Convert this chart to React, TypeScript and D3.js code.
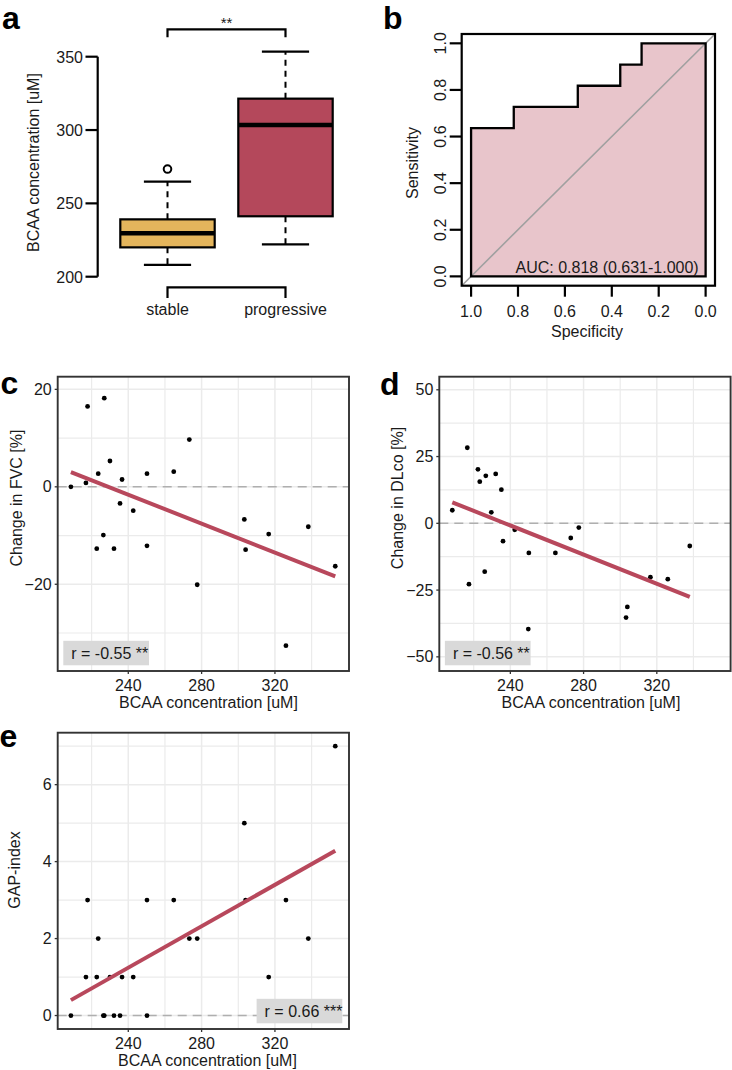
import React from 'react';
import * as d3 from 'd3';

const FONT = '"Liberation Sans", Arial, Helvetica, sans-serif';

// ---------- Panel a: box plot summary ----------
const boxGroups = ['stable', 'progressive'];
const boxQ1 = [220, 241.2];
const boxMedian = [229.6, 303.5];
const boxQ3 = [239.1, 321.4];
const boxWhiskerLow = [208, 222];
const boxWhiskerHigh = [264.8, 353.4];
const boxOutliers: number[][] = [[273.4], []];
const boxTicks = [200, 250, 300, 350];
const boxColors = ['#E4B55C', '#B4485B'];
const boxSignif = '**';

// ---------- Panel b: ROC ----------
const rocSpecificity = [1, 1, 0.818, 0.818, 0.545, 0.545, 0.364, 0.364, 0.273, 0.273, 0];
const rocSensitivity = [0, 0.636, 0.636, 0.727, 0.727, 0.818, 0.818, 0.909, 0.909, 1, 1];
const rocTicks = [0, 0.2, 0.4, 0.6, 0.8, 1.0];
const rocAuc = 'AUC: 0.818 (0.631-1.000)';

// ---------- Panels c & e: BCAA vs FVC change / GAP index ----------
const bcaa = [208.7, 216.9, 217.8, 222.8, 223.6, 226.4, 226.9, 230.0, 232.2, 235.5, 236.6, 242.7,
  250.2, 250.2, 264.8, 273.3, 277.6, 303.3, 304.0, 316.6, 326.0, 338.2, 352.9];
const fvcChange = [0.0, 0.8, 16.5, -12.7, 2.7, -9.9, 18.2, 5.3, -12.7, -3.4, 1.5, -4.9,
  2.7, -12.1, 3.1, 9.7, -20.1, -6.7, -12.9, -9.7, -32.6, -8.2, -16.3];
const gapIndex = [0, 1, 3, 1, 2, 0, 0, 1, 0, 0, 1, 1,
  3, 0, 3, 2, 2, 5, 3, 1, 3, 2, 7];

// ---------- Panel d: BCAA vs DLco change ----------
const bcaaDlco = [208.3, 216.5, 217.4, 222.3, 223.3, 226.6, 226.0, 229.6, 232.0, 235.1, 236.0, 242.4,
  250.1, 249.8, 264.6, 273.0, 277.4, 303.9, 303.2, 316.5, 326.0, 338.0];
const dlcoChange = [4.9, 28.3, -22.8, 20.2, 15.6, 17.8, -18.1, 4.1, 18.5, 12.6, -6.7, -2.4,
  -11.1, -39.6, -11.1, -5.5, -1.6, -31.3, -35.3, -20.2, -20.9, -8.5];

// linear fits: [intercept, slope]
const fitFvc = [34.0, -0.1484];
const fitDlco = [64.75, -0.2731];
const fitGap = [-5.22, 0.02693];

const corrFvc = 'r = -0.55 **';
const corrDlco = 'r = -0.56 **';
const corrGap = 'r = 0.66 ***';

const xMajor = [240, 280, 320];
const xMinor = [220, 260, 300, 340];

const RED = '#B8485C';
const GRID = '#EBEBEB';
const TXT = '#1a1a1a';

const fmtMinus = (v: number) => (v < 0 ? '\u2212' + Math.abs(v) : String(v));

function PanelA() {
  const y = d3.scaleLinear().domain([200, 350]).range([276.7, 56.7]);
  const x = d3.scaleLinear().domain([1, 2]).range([167.5, 285.5]);
  const hw = (x(2) - x(1)) * 0.4;
  const cap = hw * 0.5;
  return (
    <g>
      <text x={2} y={29} fontSize={32} fontWeight="bold" fontFamily={FONT}>a</text>
      {/* axis */}
      <line x1={97.7} x2={97.7} y1={y(200)} y2={y(350)} stroke="#000" strokeWidth={2.2} />
      {boxTicks.map((t) => (
        <g key={t}>
          <line x1={85.5} x2={97.7} y1={y(t)} y2={y(t)} stroke="#000" strokeWidth={2.2} />
          <text x={83} y={y(t) + 6} textAnchor="end" fontSize={16} fontFamily={FONT} fill={TXT}>{t}</text>
        </g>
      ))}
      <text transform={`translate(38.5,162.5) rotate(-90)`} textAnchor="middle" fontSize={16} fontFamily={FONT} fill={TXT}>
        BCAA concentration [uM]
      </text>
      {boxGroups.map((g, i) => {
        const cx = x(i + 1);
        return (
          <g key={g}>
            <line x1={cx} x2={cx} y1={y(boxQ3[i])} y2={y(boxWhiskerHigh[i])} stroke="#000" strokeWidth={2} strokeDasharray="6,5" />
            <line x1={cx} x2={cx} y1={y(boxQ1[i])} y2={y(boxWhiskerLow[i])} stroke="#000" strokeWidth={2} strokeDasharray="6,5" />
            <line x1={cx - cap} x2={cx + cap} y1={y(boxWhiskerHigh[i])} y2={y(boxWhiskerHigh[i])} stroke="#000" strokeWidth={2.2} />
            <line x1={cx - cap} x2={cx + cap} y1={y(boxWhiskerLow[i])} y2={y(boxWhiskerLow[i])} stroke="#000" strokeWidth={2.2} />
            <rect x={cx - hw} y={y(boxQ3[i])} width={2 * hw} height={y(boxQ1[i]) - y(boxQ3[i])} fill={boxColors[i]} stroke="#000" strokeWidth={2.2} />
            <line x1={cx - hw} x2={cx + hw} y1={y(boxMedian[i])} y2={y(boxMedian[i])} stroke="#000" strokeWidth={4.5} />
            {boxOutliers[i].map((o, j) => (
              <circle key={j} cx={cx} cy={y(o)} r={3.8} fill="#fff" stroke="#000" strokeWidth={2} />
            ))}
            <text x={cx} y={315} textAnchor="middle" fontSize={16} fontFamily={FONT} fill={TXT}>{g}</text>
          </g>
        );
      })}
      <path d={`M${x(1)},298 V287.3 H${x(2)} V298`} fill="none" stroke="#000" strokeWidth={2.2} />
      <path d={`M${x(1)},37.3 V29.3 H${x(2)} V37.3`} fill="none" stroke="#000" strokeWidth={2.2} />
      <text x={(x(1) + x(2)) / 2} y={27.5} textAnchor="middle" fontSize={15} fontFamily={FONT} fill={TXT}>{boxSignif}</text>
    </g>
  );
}

function PanelB() {
  const L = 461.7, R = 715, T = 34, B = 285.7;
  const x = d3.scaleLinear().domain([1.04, -0.04]).range([L, R]);
  const y = d3.scaleLinear().domain([-0.04, 1.04]).range([B, T]);
  const pts: [number, number][] = rocSpecificity.map((s, i) => [x(s), y(rocSensitivity[i])]);
  const poly = d3.line()([...pts, [x(0), y(0)], [x(1), y(0)]]) + 'Z';
  return (
    <g>
      <text x={383} y={29} fontSize={32} fontWeight="bold" fontFamily={FONT}>b</text>
      <path d={poly} fill="#E8C5CB" stroke="none" />
      <line x1={L} y1={B} x2={R} y2={T} stroke="#A0A0A0" strokeWidth={1.6} />
      <path d={poly} fill="none" stroke="#000" strokeWidth={2.3} strokeLinejoin="miter" />
      <rect x={L} y={T} width={R - L} height={B - T} fill="none" stroke="#000" strokeWidth={2.2} />
      {rocTicks.map((t) => (
        <g key={t}>
          <line x1={L - 12} x2={L} y1={y(t)} y2={y(t)} stroke="#000" strokeWidth={2.2} />
          <text transform={`translate(446,${y(t)}) rotate(-90)`} textAnchor="middle" fontSize={16} fontFamily={FONT} fill={TXT}>{t.toFixed(1)}</text>
          <line x1={x(t)} x2={x(t)} y1={B} y2={B + 11} stroke="#000" strokeWidth={2.2} />
          <text x={x(t)} y={316.5} textAnchor="middle" fontSize={16} fontFamily={FONT} fill={TXT}>{t.toFixed(1)}</text>
        </g>
      ))}
      <text x={698.7} y={273} textAnchor="end" fontSize={16} fontFamily={FONT} fill={TXT}>{rocAuc}</text>
      <text x={587} y={337} textAnchor="middle" fontSize={16} fontFamily={FONT} fill={TXT}>Specificity</text>
      <text transform={`translate(417.6,163) rotate(-90)`} textAnchor="middle" fontSize={16} fontFamily={FONT} fill={TXT}>Sensitivity</text>
    </g>
  );
}

type SP = {
  L: number; R: number; T: number; B: number;
  xDomain: number[]; yDomain: number[];
  yMajor: number[]; yMinor: number[];
  xs: number[]; ys: number[]; fit: number[];
  yTitle: string; yTitleX: number; yTitleY: number; xTitleX: number;
  corr: string; corrCorner: 'bl' | 'br';
  label: string; labelX: number; labelY: number;
};

function Scatter(p: SP) {
  const x = d3.scaleLinear().domain(p.xDomain).range([p.L, p.R]);
  const y = d3.scaleLinear().domain(p.yDomain).range([p.B, p.T]);
  const ext = d3.extent(p.xs) as [number, number];
  const fitLine = d3.line()(ext.map((v) => [x(v), y(p.fit[0] + p.fit[1] * v)] as [number, number]));
  const boxW = 85.7, boxH = 24.5;
  const bx = p.corrCorner === 'bl' ? p.L + 5.6 : p.R - 6.7 - boxW;
  const by = p.B - 30.2;
  const clipId = 'clip' + p.label;
  return (
    <g>
      <defs>
        <clipPath id={clipId}><rect x={p.L} y={p.T} width={p.R - p.L} height={p.B - p.T} /></clipPath>
      </defs>
      <text x={p.labelX} y={p.labelY} fontSize={32} fontWeight="bold" fontFamily={FONT}>{p.label}</text>
      <rect x={p.L} y={p.T} width={p.R - p.L} height={p.B - p.T} fill="#fff" />
      <g clipPath={`url(#${clipId})`}>
        {p.yMinor.map((t) => <line key={'ym' + t} x1={p.L} x2={p.R} y1={y(t)} y2={y(t)} stroke={GRID} strokeWidth={1.2} />)}
        {xMinor.map((t) => <line key={'xm' + t} x1={x(t)} x2={x(t)} y1={p.T} y2={p.B} stroke={GRID} strokeWidth={1.2} />)}
        {p.yMajor.map((t) => <line key={'yM' + t} x1={p.L} x2={p.R} y1={y(t)} y2={y(t)} stroke={GRID} strokeWidth={1.5} />)}
        {xMajor.map((t) => <line key={'xM' + t} x1={x(t)} x2={x(t)} y1={p.T} y2={p.B} stroke={GRID} strokeWidth={1.5} />)}
        <line x1={p.L} x2={p.R} y1={y(0)} y2={y(0)} stroke="#AFAFAF" strokeWidth={1.6} strokeDasharray="9,6" />
        <rect x={bx} y={by} width={boxW} height={boxH} fill="#D9D9D9" />
        <text x={bx + 8} y={by + 18} fontSize={16} fontFamily={FONT} fill={TXT}>{p.corr}</text>
        {p.xs.map((v, i) => <circle key={i} cx={x(v)} cy={y(p.ys[i])} r={2.4} fill="#000" />)}
        <path d={fitLine || ''} stroke={RED} strokeWidth={4} fill="none" />
      </g>
      <rect x={p.L} y={p.T} width={p.R - p.L} height={p.B - p.T} fill="none" stroke="#333" strokeWidth={1.9} />
      {p.yMajor.map((t) => (
        <g key={'yt' + t}>
          <line x1={p.L - 3} x2={p.L} y1={y(t)} y2={y(t)} stroke="#333" strokeWidth={1.3} />
          <text x={p.L - 6} y={y(t) + 5.5} textAnchor="end" fontSize={16} fontFamily={FONT} fill={TXT}>{fmtMinus(t)}</text>
        </g>
      ))}
      {xMajor.map((t) => (
        <g key={'xt' + t}>
          <line x1={x(t)} x2={x(t)} y1={p.B} y2={p.B + 3} stroke="#333" strokeWidth={1.3} />
          <text x={x(t)} y={p.B + 19.5} textAnchor="middle" fontSize={16} fontFamily={FONT} fill={TXT}>{t}</text>
        </g>
      ))}
      <text x={p.xTitleX} y={p.B + 36.5} textAnchor="middle" fontSize={16} fontFamily={FONT} fill={TXT}>BCAA concentration [uM]</text>
      <text transform={`translate(${p.yTitleX},${p.yTitleY}) rotate(-90)`} textAnchor="middle" fontSize={16} fontFamily={FONT} fill={TXT}>{p.yTitle}</text>
    </g>
  );
}

export default function App() {
  return (
    <svg width={732} height={1070} viewBox="0 0 732 1070" style={{ position: 'absolute', left: 0, top: 0, background: '#fff' }}>
      <rect x={0} y={0} width={732} height={1070} fill="#fff" />
      <PanelA />
      <PanelB />
      <Scatter
        L={57.7} R={349} T={376.7} B={671}
        xDomain={[201.5, 360.4]} yDomain={[-37.8, 22.6]}
        yMajor={[-20, 0, 20]} yMinor={[-30, -10, 10]}
        xs={bcaa} ys={fvcChange} fit={fitFvc}
        yTitle="Change in FVC [%]" yTitleX={21.5} yTitleY={498} xTitleX={208.5}
        corr={corrFvc} corrCorner="bl"
        label="c" labelX={0.5} labelY={394}
      />
      <Scatter
        L={439.3} R={730.6} T={376.7} B={671}
        xDomain={[201.2, 360.3]} yDomain={[-55.3, 54.9]}
        yMajor={[-50, -25, 0, 25, 50]} yMinor={[-37.5, -12.5, 12.5, 37.5]}
        xs={bcaaDlco} ys={dlcoChange} fit={fitDlco}
        yTitle="Change in DLco [%]" yTitleX={403} yTitleY={498} xTitleX={591}
        corr={corrDlco} corrCorner="bl"
        label="d" labelX={380} labelY={395}
      />
      <Scatter
        L={57.7} R={349} T={732.7} B={1029}
        xDomain={[201.5, 360.4]} yDomain={[-0.35, 7.35]}
        yMajor={[0, 2, 4, 6]} yMinor={[1, 3, 5, 7]}
        xs={bcaa} ys={gapIndex} fit={fitGap}
        yTitle="GAP-index" yTitleX={20} yTitleY={870} xTitleX={207.5}
        corr={corrGap} corrCorner="br"
        label="e" labelX={-0.5} labelY={746.5}
      />
    </svg>
  );
}
